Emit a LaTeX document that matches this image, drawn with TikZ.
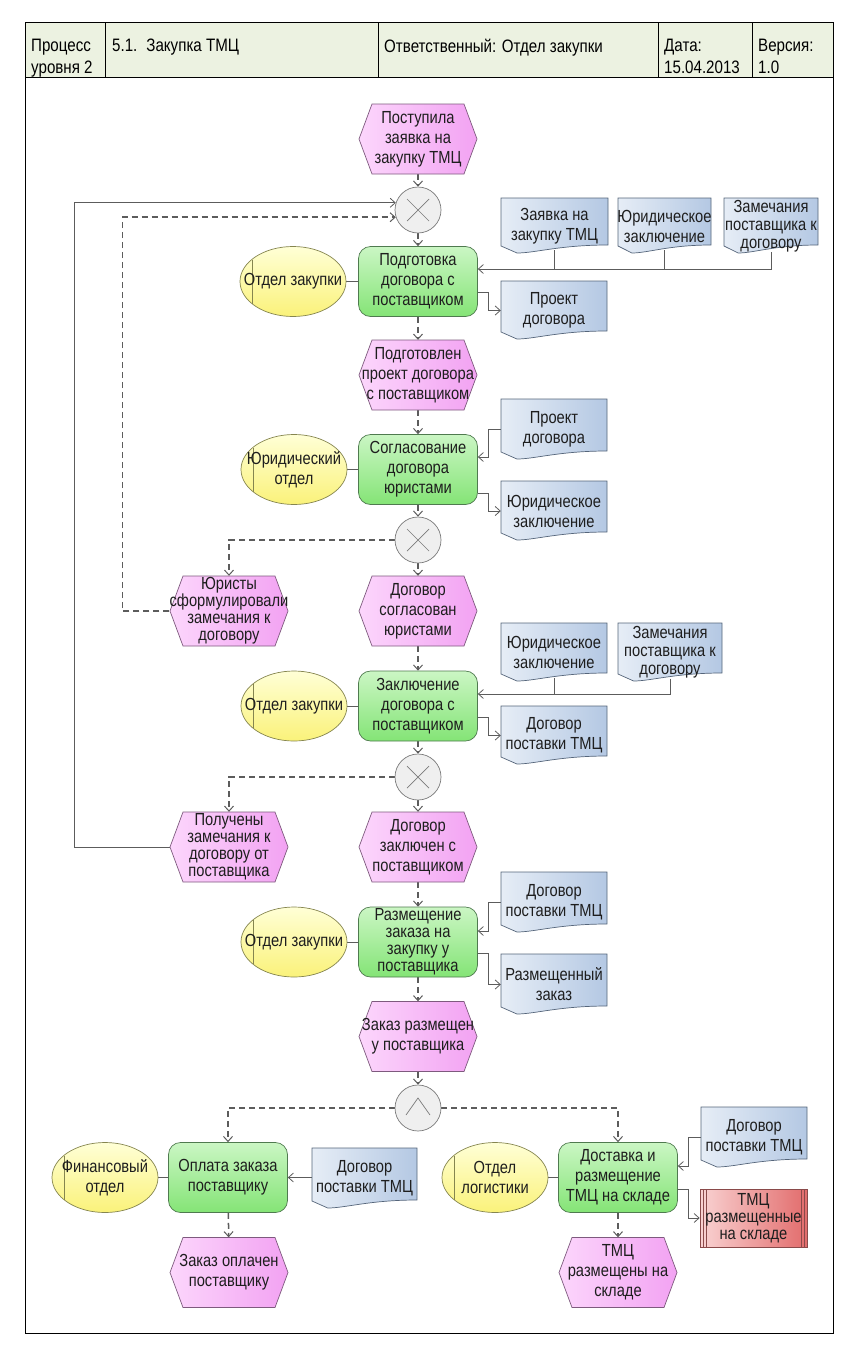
\documentclass[tikz,border=0pt]{standalone}
\usepackage{fontspec}
\setmainfont{Liberation Sans}[FakeStretch=0.84]
\usetikzlibrary{arrows.meta,calc,shapes.geometric}
\pgfdeclarelayer{bg}
\pgfsetlayers{bg,main}

\definecolor{evL}{HTML}{FCD6FC}
\definecolor{evR}{HTML}{F2A2F2}
\definecolor{evB}{HTML}{7E5A7E}
\definecolor{fnT}{HTML}{CBF6C4}
\definecolor{fnB}{HTML}{84E476}
\definecolor{fnD}{HTML}{4F7A4F}
\definecolor{orT}{HTML}{FFFFD6}
\definecolor{orB}{HTML}{FAF27A}
\definecolor{orD}{HTML}{85854F}
\definecolor{dcL}{HTML}{E6EDF6}
\definecolor{dcR}{HTML}{B4C8E3}
\definecolor{dcD}{HTML}{55657A}
\definecolor{xoF}{HTML}{EFEFEF}
\definecolor{xoD}{HTML}{7A7A7A}
\definecolor{rdL}{HTML}{F9D2D2}
\definecolor{rdR}{HTML}{E26C6C}
\definecolor{rdD}{HTML}{8A4A4A}
\definecolor{hdF}{HTML}{ECF2E1}
\definecolor{lnC}{HTML}{5C5C5C}
\definecolor{txC}{HTML}{1E1E1E}

\tikzset{
 txt/.style={inner sep=0pt, align=center, text=txC, font=\fontsize{17.5}{20}\selectfont},
 four/.style={font=\fontsize{17.5}{17}\selectfont},
 three/.style={font=\fontsize{17.5}{18}\selectfont},
 hdr/.style={inner sep=0pt, align=left, text=black, font=\fontsize{18}{22}\selectfont, anchor=north west},
 eventsty/.style={draw=evB, line width=0.7pt, left color=evL, right color=evR},
 docsty/.style={draw=dcD, line width=0.7pt, left color=dcL, right color=dcR},
 orgsty/.style={draw=orD, line width=0.7pt, top color=orT, bottom color=orB},
 func/.style={txt, rectangle, rounded corners=12pt, draw=fnD, line width=0.7pt, top color=fnT, bottom color=fnB, minimum width=119pt, minimum height=70pt},
 xorg/.style={circle, draw=xoD, line width=0.7pt, fill=xoF, inner sep=0pt, minimum size=46pt,
   path picture={\draw[xoD, line width=0.7pt] (path picture bounding box.center) ++(-11,-11) -- ++(22,22) ++(-22,0) -- ++(22,-22);}},
 andg/.style={circle, draw=xoD, line width=0.7pt, fill=xoF, inner sep=0pt, minimum size=46pt,
   path picture={\draw[xoD, line width=0.7pt] (path picture bounding box.center) ++(-12,7) -- ++(12,-17) -- ++(12,17);}},
 redbox/.style={txt, rectangle, draw=rdD, line width=0.7pt, left color=rdL, right color=rdR, minimum width=107pt, minimum height=58pt,
   font=\fontsize{17.5}{17}\selectfont,
   path picture={\draw[rdD, line width=0.6pt]
     ([xshift=3pt]path picture bounding box.north west) -- ([xshift=3pt]path picture bounding box.south west)
     ([xshift=6pt]path picture bounding box.north west) -- ([xshift=6pt]path picture bounding box.south west)
     ([xshift=-3pt]path picture bounding box.north east) -- ([xshift=-3pt]path picture bounding box.south east)
     ([xshift=-6pt]path picture bounding box.north east) -- ([xshift=-6pt]path picture bounding box.south east);}},
 flow/.style={draw=lnC, line width=1.5pt, dash pattern=on 6pt off 4pt, -{Straight Barb[length=5pt,width=9pt,line width=1pt]}},
 ctrl/.style={draw=lnC, line width=0.8pt},
 carr/.style={ctrl, -{Straight Barb[length=5pt,width=9pt]}},
}

% event: [opts]{name}{x}{y}{text}
\newcommand\evnode[5][]{%
 \path[eventsty] ({#3-59},#4) -- ({#3-46},{#4-35}) -- ({#3+46},{#4-35}) -- ({#3+59},#4) -- ({#3+46},{#4+35}) -- ({#3-46},{#4+35}) -- cycle;
 \node[txt,#1, minimum width=118pt, minimum height=70pt] (#2) at (#3,#4) {#5};}

% organisational unit: {name}{x}{y}{text}
\newcommand\orgnode[4]{%
 \path[orgsty] (#2,#3) ellipse [x radius=53, y radius=35];
 \draw[orD, line width=0.7pt] ({#2-41},{#3-22}) -- ({#2-41},{#3+22});
 \node[txt, minimum width=106pt, minimum height=70pt] (#1) at (#2,#3) {#4};}

% document: [opts]{name}{x0}{y0}{x1}{y1}{text}
\newcommand\docnode[7][]{%
 \path[docsty] (#3,#4) -- (#5,#4) -- (#5,{#6-1}) .. controls ({#3+0.55*(#5-#3)},{#6-1}) and ({#3+0.32*(#5-#3)},{#6+7}) .. ({#3+0.15*(#5-#3)},{#6+7}) -- (#3,#6) -- cycle;
 \node[txt,#1, minimum width={#5-#3}, minimum height={#6-#4}] (#2) at ({(#3+#5)/2},{(#4+#6)/2+4}) {#7};}

\begin{document}
\begin{tikzpicture}[x=1pt,y=-1pt]
\useasboundingbox (0,0) rectangle (859,1360);

% header and frame
\fill[hdF] (25,22) rectangle (833,77);
\draw[black, line width=0.8pt] (25,22) rectangle (833,1333);
\draw[black, line width=0.8pt] (25,77) -- (833,77) (105,22) -- (105,77) (378,22) -- (378,77) (658,22) -- (658,77) (752,22) -- (752,77);
\node[hdr] (h1) at (31,38.5) {Процесс\\уровня 2};
\node[hdr] (h2) at (112,38.5) {5.1.\hspace{9pt}Закупка ТМЦ};
\node[hdr] (h3) at (384,38.5) {Ответственный: Отдел закупки};
\node[hdr] (h4) at (664,38.5) {Дата:\\15.04.2013};
\node[hdr] (h5) at (758,38.5) {Версия:\\1.0};

% main column
\evnode{E1}{418}{139}{Поступила\\заявка на\\закупку ТМЦ}
\node[xorg] (X1) at (418,210) {};
\node[func] (F1) at (418,281.5) {Подготовка\\договора с\\поставщиком};
\orgnode{O1}{293}{281.5}{Отдел закупки}
\docnode{D1}{501}{198}{608}{246}{Заявка на\\закупку ТМЦ}
\docnode{D2}{618}{198}{711}{246}{Юридическое\\заключение}
\docnode[three]{D3}{724}{198}{818}{246}{Замечания\\поставщика к\\договору}
\docnode{D4}{501}{281}{607}{332}{Проект\\договора}

\evnode{E2}{418}{375}{Подготовлен\\проект договора\\с поставщиком}
\node[func] (F2) at (418,469.5) {Согласование\\договора\\юристами};
\orgnode{O2}{294}{469.5}{Юридический\\отдел}
\docnode{D5}{501}{399}{607}{452}{Проект\\договора}
\docnode{D6}{501}{481}{607}{533}{Юридическое\\заключение}
\node[xorg] (X2) at (418,540) {};

\evnode[four]{E3}{229}{611}{Юристы\\сформулировали\\замечания к\\договору}
\evnode{E4}{418}{611}{Договор\\согласован\\юристами}
\node[func] (F3) at (418,706) {Заключение\\договора с\\поставщиком};
\orgnode{O3}{294}{706}{Отдел закупки}
\docnode{D7}{501}{623}{607}{674}{Юридическое\\заключение}
\docnode[three]{D8}{618}{623}{722}{674}{Замечания\\поставщика к\\договору}
\docnode{D9}{501}{706}{607}{757}{Договор\\поставки ТМЦ}
\node[xorg] (X3) at (418,777) {};

\evnode[four]{E5}{229}{847}{Получены\\замечания к\\договору от\\поставщика}
\evnode{E6}{418}{847}{Договор\\заключен с\\поставщиком}
\node[func,four] (F4) at (418,942) {Размещение\\заказа на\\закупку у\\поставщика};
\orgnode{O4}{294}{942}{Отдел закупки}
\docnode{D10}{501}{872}{607}{925}{Договор\\поставки ТМЦ}
\docnode{D11}{501}{954}{607}{1007}{Размещенный\\заказ}
\evnode{E7}{418}{1036.5}{Заказ размещен\\у поставщика}
\node[andg] (A1) at (418,1108) {};

% bottom branches
\node[func] (F5) at (228,1177.5) {Оплата заказа\\поставщику};
\orgnode{O5}{105}{1177.5}{Финансовый\\отдел}
\docnode{D12}{312}{1148}{417}{1201}{Договор\\поставки ТМЦ}
\evnode{E8}{229}{1272.5}{Заказ оплачен\\поставщику}

\node[func] (F6) at (618,1177.5) {Доставка и\\размещение\\ТМЦ на складе};
\orgnode{O6}{495}{1177.5}{Отдел\\логистики}
\docnode{D13}{701}{1107}{807}{1160}{Договор\\поставки ТМЦ}
\node[redbox] (R1) at (753.5,1218) {ТМЦ\\размещенные\\на складе};
\evnode{E9}{618}{1272.5}{ТМЦ\\размещены на\\складе}

\begin{pgfonlayer}{bg}
 % control flow
 \draw[flow] (E1) -- (X1);
 \draw[flow] (X1) -- (F1);
 \draw[flow] (F1) -- (E2);
 \draw[flow] (E2) -- (F2);
 \draw[flow] (F2) -- (X2);
 \draw[flow] (X2) -- (E4);
 \draw[flow] (X2.west) -| (E3.north);
 \draw[flow] (E3.west) -- ++(-47,0) |- (X1.198);
 \draw[carr] (E5.west) -- ++(-95,0) |- (X1.162);
 \draw[flow] (E4) -- (F3);
 \draw[flow] (F3) -- (X3);
 \draw[flow] (X3) -- (E6);
 \draw[flow] (X3.west) -| (E5.north);
 \draw[flow] (E6) -- (F4);
 \draw[flow] (F4) -- (E7);
 \draw[flow] (E7) -- (A1);
 \draw[flow] (A1.west) -| (F5.north);
 \draw[flow] (A1.east) -| (F6.north);
 \draw[flow] (F5) -- (E8);
 \draw[flow] (F6) -- (E9);
 % organisational units
 \draw[ctrl] (O1.east) -- (F1.west);
 \draw[ctrl] (O2.east) -- (F2.west);
 \draw[ctrl] (O3.east) -- (F3.west);
 \draw[ctrl] (O4.east) -- (F4.west);
 \draw[ctrl] (O5.east) -- (F5.west);
 \draw[ctrl] (O6.east) -- (F6.west);
 % documents
 \coordinate (i1) at ($(F1.east)+(0,-12.5)$);
 \draw[carr] (D3.south) |- (i1);
 \draw[ctrl] (D1.south) -- (D1.south |- i1);
 \draw[ctrl] (D2.south) -- (D2.south |- i1);
 \draw[carr] ($(F1.east)+(0,10.5)$) -- ++(11,0) |- (D4.west);
 \draw[carr] (D5.west) -- ++(-12,0) |- ($(F2.east)+(0,-12.5)$);
 \draw[carr] ($(F2.east)+(0,23.5)$) -- ++(11,0) |- (D6.west);
 \coordinate (i3) at ($(F3.east)+(0,-12)$);
 \draw[carr] (D8.south) |- (i3);
 \draw[ctrl] (D7.south) -- (D7.south |- i3);
 \draw[carr] ($(F3.east)+(0,11)$) -- ++(11,0) |- (D9.west);
 \draw[carr] (D10.west) -- ++(-12,0) |- ($(F4.east)+(0,-11)$);
 \draw[carr] ($(F4.east)+(0,11)$) -- ++(11,0) |- (D11.west);
 \draw[carr] (D12.west |- F5.east) -- (F5.east);
 \draw[carr] (D13.west) -- ++(-12,0) |- ($(F6.east)+(0,-11.5)$);
 \draw[carr] ($(F6.east)+(0,11.5)$) -- ++(11,0) |- (R1.west);
\end{pgfonlayer}
\end{tikzpicture}
\end{document}
